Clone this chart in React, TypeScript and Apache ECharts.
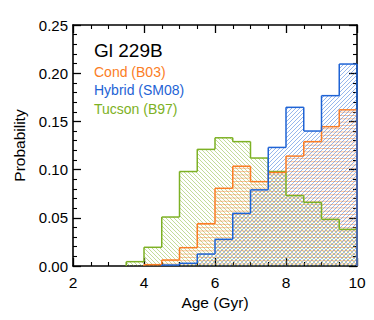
import React, { useEffect, useRef } from "react";
import * as echarts from "echarts";

// ---- data ----
const binStarts = [3.5, 4, 4.5, 5, 5.5, 6, 6.5, 7, 7.5, 8, 8.5, 9, 9.5];
const binWidth = 0.5;
const tucsonB97 = [0.0045, 0.0194, 0.0508, 0.098, 0.121, 0.133, 0.129, 0.112, 0.098, 0.073, 0.066, 0.0484, 0.038];
const condB03 = [0, 0.0014, 0.0062, 0.019, 0.0439, 0.0806, 0.1035, 0.0875, 0.097, 0.114, 0.129, 0.1445, 0.162];
const hybridSM08 = [0, 0, 0.001, 0.0028, 0.0124, 0.0277, 0.0546, 0.079, 0.123, 0.1646, 0.14, 0.1767, 0.2095];

const titleText = "Gl 229B";
const legendNames = ["Cond (B03)", "Hybrid (SM08)", "Tucson (B97)"];
const xName = "Age (Gyr)";
const yName = "Probability";

const COLORS = { cond: "#fb7d25", hybrid: "#1e63d5", tucson: "#7db124" };
const FONT = "'Liberation Sans', Arial, Helvetica, sans-serif";

function toData(vals: number[]) {
  return binStarts.map((s, i) => [s, vals[i], i > 0 ? vals[i - 1] : 0]);
}

function seg(x1: number, y1: number, x2: number, y2: number, color: string, w: number, op = 1) {
  return {
    type: "line",
    silent: true,
    shape: { x1, y1, x2, y2 },
    style: { stroke: color, lineWidth: w, opacity: op },
  };
}

function hatchRender(kind: "h" | "up" | "down", color: string) {
  return (params: any, api: any) => {
    const start = api.value(0);
    const v = api.value(1);
    if (!(v > 0)) return { type: "group", children: [] };
    const p0 = api.coord([start, v]);
    const p1 = api.coord([start + binWidth, 0]);
    const xa = p0[0], xb = p1[0], ya = p0[1], yb = p1[1];
    const children: any[] = [];
    const lw = 0.75, op = 0.62;
    if (kind === "h") {
      const s = 3.3;
      for (let y = Math.ceil(ya / s) * s; y <= yb; y += s) children.push(seg(xa, y, xb, y, color, lw, op));
    } else if (kind === "up") {
      const s = 4;
      const cMin = xa + ya, cMax = xb + yb;
      for (let c = Math.ceil(cMin / s) * s; c <= cMax; c += s) {
        const xs = Math.max(xa, c - yb), xe = Math.min(xb, c - ya);
        if (xe > xs) children.push(seg(xs, c - xs, xe, c - xe, color, lw, op));
      }
    } else {
      const s = 4;
      const cMin = xa - yb, cMax = xb - ya;
      for (let c = Math.ceil(cMin / s) * s; c <= cMax; c += s) {
        const xs = Math.max(xa, ya + c), xe = Math.min(xb, yb + c);
        if (xe > xs) children.push(seg(xs, xs - c, xe, xe - c, color, lw, op));
      }
    }
    return { type: "group", children };
  };
}

function outlineRender(color: string) {
  return (params: any, api: any) => {
    const start = api.value(0);
    const v = api.value(1);
    const prev = api.value(2);
    const children: any[] = [];
    const pTop = api.coord([start, v]);
    const pEnd = api.coord([start + binWidth, 0]);
    const pPrev = api.coord([start, prev]);
    const lw = 1.5;
    if (v > 0 || prev > 0) {
      if (v > 0) children.push(seg(pTop[0], pTop[1], pEnd[0], pTop[1], color, lw));
      children.push(seg(pTop[0], pPrev[1], pTop[0], pTop[1], color, lw));
    }
    if (params.dataIndex === binStarts.length - 1 && v > 0) {
      children.push(seg(pEnd[0], pTop[1], pEnd[0], pEnd[1], color, lw));
    }
    return { type: "group", children };
  };
}

const axisCommon = {
  axisLine: { show: true, onZero: false, lineStyle: { color: "#000", width: 1.6 } },
  axisTick: { show: true, inside: true, length: 8, lineStyle: { color: "#000", width: 1.3 } },
  minorTick: { show: true, length: 4, lineStyle: { color: "#000", width: 1.1 } },
  splitLine: { show: false },
  minorSplitLine: { show: false },
};

export default function App() {
  const ref = useRef<HTMLDivElement>(null);
  useEffect(() => {
    if (!ref.current) return;
    const chart = echarts.init(ref.current, null, { renderer: "svg" });
    const mk = (name: string, vals: number[], kind: "h" | "up" | "down", color: string, z: number, outline: boolean) => ({
      type: "custom",
      name,
      coordinateSystem: "cartesian2d",
      xAxisIndex: 0,
      yAxisIndex: 0,
      z,
      silent: true,
      encode: { x: 0, y: 1 },
      renderItem: outline ? outlineRender(color) : hatchRender(kind, color),
      data: toData(vals),
    });
    chart.setOption({
      animation: false,
      backgroundColor: "#fff",
      textStyle: { fontFamily: FONT },
      grid: { left: 73, right: 17, top: 25, bottom: 54 },
      xAxis: [
        {
          type: "value",
          position: "bottom",
          min: 2,
          max: 10,
          interval: 2,
          ...axisCommon,
          minorTick: { ...axisCommon.minorTick, splitNumber: 4 },
          axisLabel: { color: "#000", fontSize: 15.5, fontFamily: FONT, margin: 8 },
          name: xName,
          nameLocation: "middle",
          nameGap: 24,
          nameTextStyle: { color: "#000", fontSize: 15.5, fontFamily: FONT },
        },
        {
          type: "value",
          position: "top",
          min: 2,
          max: 10,
          interval: 2,
          ...axisCommon,
          minorTick: { ...axisCommon.minorTick, splitNumber: 4 },
          axisLabel: { show: false },
        },
      ],
      yAxis: [
        {
          type: "value",
          position: "left",
          min: 0,
          max: 0.25,
          interval: 0.05,
          ...axisCommon,
          minorTick: { ...axisCommon.minorTick, splitNumber: 5 },
          axisLabel: {
            color: "#000",
            fontSize: 15,
            fontFamily: FONT,
            margin: 5,
            formatter: (v: number) => v.toFixed(2),
          },
          name: yName,
          nameLocation: "middle",
          nameGap: 44,
          nameTextStyle: { color: "#000", fontSize: 15.5, fontFamily: FONT },
        },
        {
          type: "value",
          position: "right",
          min: 0,
          max: 0.25,
          interval: 0.05,
          ...axisCommon,
          minorTick: { ...axisCommon.minorTick, splitNumber: 5 },
          axisLabel: { show: false },
        },
      ],
      series: [
        mk(legendNames[2], tucsonB97, "down", COLORS.tucson, 1, false),
        mk(legendNames[0], condB03, "h", COLORS.cond, 1, false),
        mk(legendNames[1], hybridSM08, "up", COLORS.hybrid, 1, false),
        mk(legendNames[2] + " outline", tucsonB97, "down", COLORS.tucson, 2, true),
        mk(legendNames[0] + " outline", condB03, "h", COLORS.cond, 2, true),
        mk(legendNames[1] + " outline", hybridSM08, "up", COLORS.hybrid, 2, true),
      ],
      graphic: [
        {
          type: "text",
          x: 94,
          y: 50.5,
          style: { text: titleText, fill: "#000", font: `19px ${FONT}`, verticalAlign: "middle", align: "left" },
        },
        {
          type: "text",
          x: 94,
          y: 72,
          style: { text: legendNames[0], fill: COLORS.cond, font: `14px ${FONT}`, verticalAlign: "middle", align: "left" },
        },
        {
          type: "text",
          x: 94,
          y: 90.3,
          style: { text: legendNames[1], fill: COLORS.hybrid, font: `14px ${FONT}`, verticalAlign: "middle", align: "left" },
        },
        {
          type: "text",
          x: 94,
          y: 108.6,
          style: { text: legendNames[2], fill: COLORS.tucson, font: `14px ${FONT}`, verticalAlign: "middle", align: "left" },
        },
      ],
    });
    return () => chart.dispose();
  }, []);
  return <div ref={ref} style={{ position: "fixed", left: 0, top: 0, width: 374, height: 320 }} />;
}
